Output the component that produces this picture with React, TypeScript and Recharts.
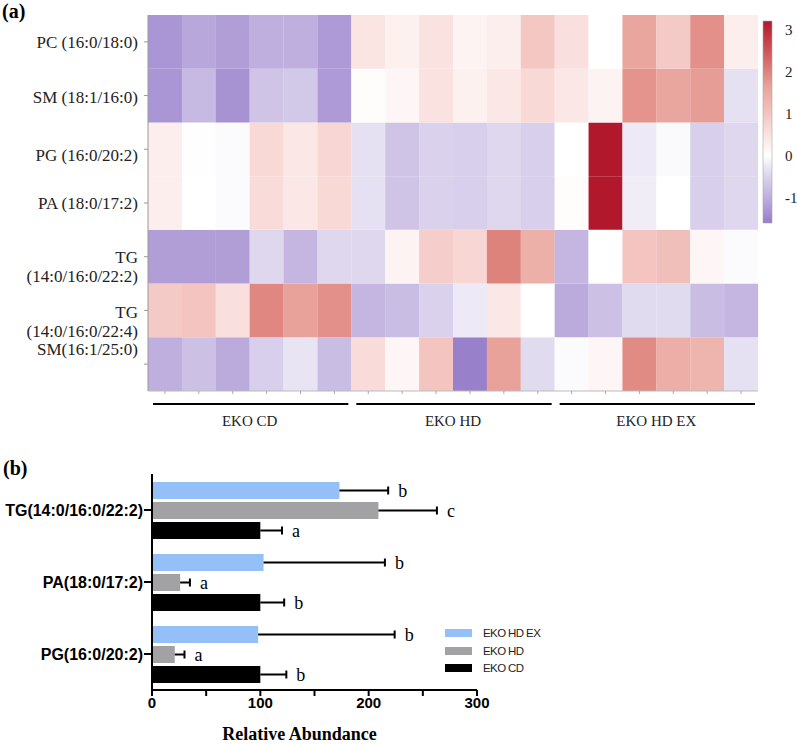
import React from 'react'
import { BarChart, Bar, XAxis, YAxis, Cell, LabelList, Legend } from 'recharts'

const SERIF = '"Liberation Serif", "Times New Roman", serif'
const SANS = '"Liberation Sans", Arial, sans-serif'

// ---- (a) heatmap data: z-scores, 6 mice per group ----
const groupLabels = ['EKO CD', 'EKO HD', 'EKO HD EX']
const sampleIds = [
  'CD1', 'CD2', 'CD3', 'CD4', 'CD5', 'CD6',
  'HD1', 'HD2', 'HD3', 'HD4', 'HD5', 'HD6',
  'EX1', 'EX2', 'EX3', 'EX4', 'EX5', 'EX6',
]
const rowLabels = [
  'PC (16:0/18:0)',
  'SM (18:1/16:0)',
  'PG (16:0/20:2)',
  'PA (18:0/17:2)',
  'TG\n(14:0/16:0/22:2)',
  'TG\n(14:0/16:0/22:4)',
  'SM(16:1/25:0)',
]
const pcValues = [-1.3, -1.1, -1.2, -1.0, -1.0, -1.25, 0.45, 0.25, 0.5, 0.2, 0.3, 0.95, 0.55, 0.0, 1.6, 0.9, 1.85, 0.3]
const sm181Values = [-1.3, -0.85, -1.35, -0.7, -0.65, -1.25, 0.05, 0.15, 0.5, 0.25, 0.4, 0.65, 0.4, 0.2, 1.8, 1.6, 1.7, -0.35]
const pgValues = [0.3, 0.02, -0.05, 0.65, 0.4, 0.7, -0.35, -0.7, -0.5, -0.55, -0.45, -0.55, 0.0, 3.2, -0.25, -0.07, -0.55, -0.45]
const paValues = [0.3, 0.0, -0.05, 0.6, 0.4, 0.65, -0.35, -0.7, -0.5, -0.55, -0.45, -0.55, 0.05, 3.2, -0.2, 0.0, -0.55, -0.45]
const tg222Values = [-1.2, -1.2, -1.2, -0.45, -0.9, -0.45, -0.45, 0.2, 0.85, 0.7, 2.0, 1.4, -0.9, 0.0, 1.0, 1.1, 0.15, -0.05]
const tg224Values = [0.9, 1.0, 0.55, 1.95, 1.65, 1.85, -0.9, -0.8, -0.5, -0.25, 0.4, 0.0, -1.05, -0.75, -0.4, -0.4, -0.8, -0.9]
const sm161Values = [-1.0, -0.75, -1.05, -0.55, -0.3, -0.8, 0.6, 0.15, 1.0, -1.55, 1.65, -0.4, -0.05, 0.15, 1.9, 1.45, 1.3, -0.35]
const heatRows = [pcValues, sm181Values, pgValues, paValues, tg222Values, tg224Values, sm161Values]

const colorbarTicks = [-1, 0, 1, 2, 3]
const colorbarDomain = [-1.6, 3.2]

// ---- (b) relative abundance ----
const lipids = ['TG(14:0/16:0/22:2)', 'PA(18:0/17:2)', 'PG(16:0/20:2)']
const seriesNames = ['EKO HD EX', 'EKO HD', 'EKO CD']
const hdExValues = [173, 103, 98]
const hdExErr = [45, 112, 126]
const hdExLetters = ['b', 'b', 'b']
const hdValues = [209, 26, 21]
const hdErr = [54, 9, 9]
const hdLetters = ['c', 'a', 'a']
const cdValues = [100, 100, 100]
const cdErr = [20, 22, 24]
const cdLetters = ['a', 'b', 'b']
const abundanceTicks = [0, 50, 100, 150, 200, 250, 300]

// diverging palette, purple -> white -> red
const colorStops: [number, number[]][] = [
  [-1.6, [150, 124, 200]],
  [-1.3, [170, 150, 212]],
  [-1, [190, 175, 222]],
  [-0.5, [218, 210, 236]],
  [0, [255, 255, 255]],
  [0.5, [250, 226, 224]],
  [1, [243, 196, 192]],
  [1.6, [233, 166, 158]],
  [2, [222, 130, 124]],
  [3.2, [178, 24, 43]],
]

function valueColor(v: number) {
  const s = colorStops
  if (v <= s[0][0]) return `rgb(${s[0][1].join(',')})`
  for (let i = 1; i < s.length; i++) {
    if (v <= s[i][0]) {
      const t = (v - s[i - 1][0]) / (s[i][0] - s[i - 1][0])
      const c = s[i - 1][1].map((a, k) => Math.round(a + (s[i][1][k] - a) * t))
      return `rgb(${c.join(',')})`
    }
  }
  return `rgb(${s[s.length - 1][1].join(',')})`
}

const heatData = sampleIds.map((id) => {
  const d: any = { sample: id }
  heatRows.forEach((_, r) => (d[`r${r}`] = 1))
  return d
})

const HEAT_W = 797
const HEAT_YAXIS_W = 148
const HEAT_RIGHT = 39
const colW = (HEAT_W - HEAT_YAXIS_W - HEAT_RIGHT) / sampleIds.length
// small vertical nudges so the row labels sit where the original put them
const rowLabelNudge = [0, 1, 6, 0, 0, 2, -15]

function HeatRowTick({ x, y, payload }: any) {
  const r = heatRows.length - 1 - Math.floor(payload.value)
  const lines = rowLabels[r].split('\n')
  const cy = y + rowLabelNudge[r]
  return (
    <text x={x} y={cy} textAnchor="end" fontFamily={SERIF} fontSize={17} fill="#222" dominantBaseline="central">
      {lines.map((l, i) => (
        <tspan key={i} x={x} dy={i === 0 ? 0 : 19}>
          {l}
        </tspan>
      ))}
    </text>
  )
}

function GroupTick({ x, y, index }: any) {
  const groupSize = sampleIds.length / groupLabels.length
  const first = index % groupSize === 0
  const x0 = x - colW / 2
  return (
    <g>
      <line x1={x} x2={x} y1={y} y2={y + 3} stroke="#aaa" strokeWidth={1} />
      {first && (
        <g>
          <line x1={x0 + 5} x2={x0 + groupSize * colW - 3} y1={y + 13} y2={y + 13} stroke="#000" strokeWidth={2.2} />
          <text x={x0 + (groupSize * colW) / 2} y={y + 30} textAnchor="middle" dominantBaseline="central" fontFamily={SERIF} fontSize={15} fill="#222">
            {groupLabels[index / groupSize]}
          </text>
        </g>
      )}
    </g>
  )
}

function HeatMap() {
  const n = heatRows.length
  return (
    <BarChart
      width={HEAT_W}
      height={440}
      data={heatData}
      margin={{ top: 15, right: HEAT_RIGHT, bottom: 4, left: 0 }}
      barCategoryGap={0}
    >
      <XAxis
        dataKey="sample"
        interval={0}
        height={45}
        tickLine={false}
        tickSize={0}
        tickMargin={0}
        axisLine={{ stroke: '#bbb' }}
        tick={<GroupTick />}
      />
      <YAxis
        type="number"
        domain={[0, n]}
        ticks={heatRows.map((_, i) => i + 0.5)}
        width={HEAT_YAXIS_W}
        axisLine={{ stroke: '#999' }}
        tickLine={{ stroke: '#999' }}
        tickSize={4}
        tickMargin={6}
        tick={<HeatRowTick />}
      />
      {heatRows
        .map((vals, r) => (
          <Bar key={r} dataKey={`r${r}`} stackId="heat" isAnimationActive={false}>
            {vals.map((v, i) => (
              <Cell key={i} fill={valueColor(v)} />
            ))}
          </Bar>
        ))
        .reverse()}
    </BarChart>
  )
}

function ColorBar() {
  const [lo, hi] = colorbarDomain
  // gradient runs top (hi) to bottom (lo); stop offsets must increase
  const stops = [...colorStops].reverse()
  return (
    <BarChart
      width={57}
      height={240}
      data={[{ name: 'scale', range: [lo, hi] }]}
      margin={{ top: 21, right: 0, bottom: 17, left: 23 }}
      barCategoryGap={0}
    >
      <defs>
        <linearGradient id="cbGrad" x1="0" y1="0" x2="0" y2="1">
          {stops.map(([v, c]) => (
            <stop key={v} offset={(hi - v) / (hi - lo)} stopColor={`rgb(${c.join(',')})`} />
          ))}
        </linearGradient>
      </defs>
      <XAxis dataKey="name" hide />
      <YAxis
        orientation="right"
        width={25}
        domain={[lo, hi]}
        ticks={colorbarTicks}
        axisLine={false}
        tickLine={false}
        tickMargin={7}
        tick={{ fontFamily: SERIF, fontSize: 15, fill: '#222' }}
      />
      <Bar dataKey="range" fill="url(#cbGrad)" stroke="#aaa" strokeWidth={0.6} isAnimationActive={false} />
    </BarChart>
  )
}

const abundanceData = lipids.map((lipid, i) => ({
  lipid,
  hdEx: hdExValues[i],
  hd: hdValues[i],
  cd: cdValues[i],
}))

const errorLabel = (values: number[], errs: number[], letters: string[]) => (props: any) => {
  const vb = props.viewBox || props
  const i = props.index ?? 0
  const pxPer = vb.width / values[i]
  const x0 = vb.x + vb.width
  const x1 = x0 + errs[i] * pxPer
  const cy = vb.y + vb.height / 2
  return (
    <g>
      <line x1={x0} x2={x1} y1={cy} y2={cy} stroke="#000" strokeWidth={2} />
      <line x1={x1} x2={x1} y1={cy - 4} y2={cy + 4} stroke="#000" strokeWidth={2} />
      <text x={x1 + 10} y={cy} dominantBaseline="central" fontFamily={SERIF} fontSize={18} fill="#000">
        {letters[i]}
      </text>
    </g>
  )
}

function AbundanceTick({ x, y, payload }: any) {
  if (payload.value % 100 !== 0) return <g />
  return (
    <text x={x} y={y + 10} textAnchor="middle" fontFamily={SANS} fontWeight="bold" fontSize={15} fill="#000">
      {payload.value}
    </text>
  )
}

function renderLegend({ payload }: any) {
  const items = [...(payload || [])].sort(
    (a: any, b: any) => seriesNames.indexOf(a.value) - seriesNames.indexOf(b.value)
  )
  return (
    <div style={{ fontFamily: SANS, fontSize: 11.5, letterSpacing: -0.6, color: '#222' }}>
      {items.map((p: any) => (
        <div key={p.value} style={{ display: 'flex', alignItems: 'center', height: 17.8 }}>
          <span style={{ display: 'inline-block', width: 27, height: 8, background: p.color, marginRight: 11 }} />
          {p.value}
        </div>
      ))}
    </div>
  )
}

function AbundanceChart() {
  return (
    <BarChart
      layout="vertical"
      width={797}
      height={285}
      data={abundanceData}
      margin={{ top: 14, right: 320, bottom: 0, left: 0 }}
      barSize={17}
      barGap={3}
    >
      <XAxis
        type="number"
        domain={[0, 300]}
        ticks={abundanceTicks}
        height={55}
        axisLine={{ stroke: '#000', strokeWidth: 2 }}
        tickLine={{ stroke: '#000', strokeWidth: 2 }}
        tickSize={6}
        tickMargin={2}
        tick={<AbundanceTick />}
        label={({ viewBox }: any) => (
          <text
            x={viewBox.x + viewBox.width / 2 - 15}
            y={viewBox.y + 50}
            textAnchor="middle"
            fontFamily={SERIF}
            fontWeight="bold"
            fontSize={18}
            fill="#000"
          >
            Relative Abundance
          </text>
        )}
      />
      <YAxis
        type="category"
        dataKey="lipid"
        width={152}
        axisLine={{ stroke: '#000', strokeWidth: 2 }}
        tickLine={{ stroke: '#000', strokeWidth: 2 }}
        tickSize={8}
        tickMargin={1}
        tick={{ fontFamily: SANS, fontWeight: 'bold', fontSize: 16, fill: '#000' }}
      />
      <Legend
        layout="horizontal"
        verticalAlign="middle"
        align="center"
        wrapperStyle={{ left: 445, top: 164, width: 120 }}
        content={renderLegend}
      />
      <Bar dataKey="hdEx" name={seriesNames[0]} fill="#94c0f7" isAnimationActive={false}>
        <LabelList dataKey="hdEx" content={errorLabel(hdExValues, hdExErr, hdExLetters)} />
      </Bar>
      <Bar dataKey="hd" name={seriesNames[1]} fill="#a2a2a4" isAnimationActive={false}>
        <LabelList dataKey="hd" content={errorLabel(hdValues, hdErr, hdLetters)} />
      </Bar>
      <Bar dataKey="cd" name={seriesNames[2]} fill="#000" isAnimationActive={false}>
        <LabelList dataKey="cd" content={errorLabel(cdValues, cdErr, cdLetters)} />
      </Bar>
    </BarChart>
  )
}

export default function App() {
  return (
    <div style={{ position: 'absolute', left: 0, top: 0, width: 797, height: 745, background: '#fff', overflow: 'hidden' }}>
      <div style={{ position: 'absolute', left: 2, top: 0, fontFamily: SERIF, fontWeight: 'bold', fontSize: 20, lineHeight: '22px' }}>(a)</div>
      <div style={{ position: 'absolute', left: 0, top: 0 }}>
        <HeatMap />
      </div>
      <div style={{ position: 'absolute', left: 740, top: 0 }}>
        <ColorBar />
      </div>
      <div style={{ position: 'absolute', left: 3, top: 457, fontFamily: SERIF, fontWeight: 'bold', fontSize: 20, lineHeight: '22px' }}>(b)</div>
      <div style={{ position: 'absolute', left: 0, top: 460 }}>
        <AbundanceChart />
      </div>
    </div>
  )
}
